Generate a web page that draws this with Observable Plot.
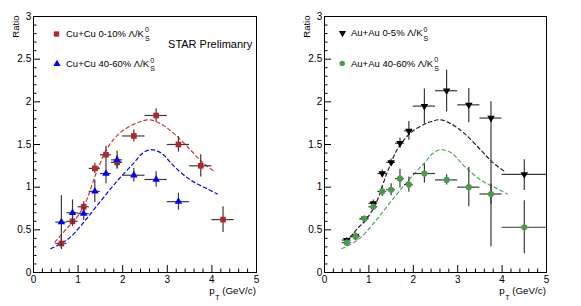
<!DOCTYPE html>
<html>
<head>
<meta charset="utf-8">
<script src="https://cdn.jsdelivr.net/npm/d3@7"></script>
<script src="https://cdn.jsdelivr.net/npm/@observablehq/plot@0.6"></script>
<style>
  body { margin: 0; background: #fff; }
  #wrap { position: relative; width: 581px; height: 306px; overflow: hidden; background: #fff;
          font-family: "Liberation Sans", Arial, Helvetica, sans-serif; color: #000; }
  .p { position: absolute; top: 0; }
  .lab { position: absolute; white-space: nowrap; line-height: 1; }
  .leg { font-size: 9.5px; }
  .ss { position: relative; display: inline-block; width: 7px; height: 0; }
  .ss span { position: absolute; left: 1px; font-size: 7px; line-height: 1; }
  .ss .sup { top: -10.1px; }
  .ss .sub { top: -1.4px; }
  .xl { font-size: 9.8px; }
  .xl .t { font-size: 7px; position: relative; top: 6.2px; margin-left: 0.5px; }
</style>
</head>
<body>
<div id="wrap">
  <div id="left" class="p" style="left:0px"></div>
  <div id="right" class="p" style="left:290px"></div>

  <div class="lab leg" style="left:66px;top:28.5px">Cu+Cu 0-10% Λ/K<span class="ss"><span class="sup">0</span><span class="sub">S</span></span></div>
  <div class="lab leg" style="left:66px;top:58.7px">Cu+Cu 40-60% Λ/K<span class="ss"><span class="sup">0</span><span class="sub">S</span></span></div>
  <div class="lab leg" style="left:351px;top:28px">Au+Au 0-5% Λ/K<span class="ss"><span class="sup">0</span><span class="sub">S</span></span></div>
  <div class="lab leg" style="left:351px;top:58.5px">Au+Au 40-60% Λ/K<span class="ss"><span class="sup">0</span><span class="sub">S</span></span></div>

  <div class="lab xl" style="right:325px;top:285.8px">p<span class="t">T</span> (GeV/c)</div>
  <div class="lab xl" style="right:35px;top:285.8px">p<span class="t">T</span> (GeV/c)</div>
</div>
<script>
// ---------- data ----------
// Cu+Cu (left panel)
const cuPt      = [0.625, 0.875, 1.125, 1.375, 1.625, 1.875, 2.25, 2.75, 3.25, 3.75, 4.25];
const cuPtErr   = [0.125, 0.125, 0.125, 0.125, 0.125, 0.125, 0.25, 0.25, 0.25, 0.25, 0.25];
const cu010     = [0.34, 0.60, 0.77, 1.22, 1.38, 1.29, 1.60, 1.84, 1.50, 1.25, 0.62];
const cu010Err  = [0.07, 0.06, 0.06, 0.06, 0.10, 0.08, 0.07, 0.08, 0.09, 0.13, 0.15];
const cu4060    = [0.59, 0.70, 0.69, 0.95, 1.16, 1.32, 1.14, 1.09, 0.83];
const cu4060Err = [0.31, 0.15, 0.08, 0.13, 0.12, 0.10, 0.08, 0.09, 0.10];

// Au+Au (right panel)
const auPt      = [0.5, 0.7, 0.9, 1.1, 1.3, 1.5, 1.7, 1.9, 2.25, 2.75, 3.25, 3.75, 4.5];
const auPtErr   = [0.1, 0.1, 0.1, 0.1, 0.1, 0.1, 0.1, 0.1, 0.25, 0.25, 0.25, 0.25, 0.5];
const au05      = [0.38, 0.43, 0.63, 0.81, 1.16, 1.29, 1.515, 1.66, 1.95, 2.13, 1.965, 1.81, 1.15];
const au05Lo    = [0.03, 0.03, 0.03, 0.04, 0.04, 0.04, 0.06, 0.11, 0.21, 0.25, 0.21, 1.51, 0.19];
const au05Hi    = [0.03, 0.03, 0.03, 0.04, 0.04, 0.04, 0.06, 0.11, 0.20, 0.24, 0.19, 0.19, 0.17];
const au4060    = [0.35, 0.42, 0.63, 0.77, 0.95, 0.97, 1.10, 1.03, 1.16, 1.085, 1.00, 0.92, 0.53];
const au4060Err = [0.04, 0.04, 0.03, 0.04, 0.06, 0.07, 0.11, 0.09, 0.11, 0.06, 0.23, 0.12, 0.31];

// dashed model curves (central / peripheral)
const modelCentralPt = [0.48, 0.77, 0.92, 1.15, 1.41, 1.67, 1.96, 2.26, 2.41, 2.60, 2.86, 3.16, 3.53, 3.79, 4.08];
const modelCentral   = [0.355, 0.53, 0.61, 0.80, 1.17, 1.47, 1.645, 1.74, 1.77, 1.79, 1.74, 1.625, 1.43, 1.29, 1.175];
const modelPeriphPt  = [0.39, 0.77, 1.16, 1.51, 1.89, 2.26, 2.45, 2.63, 2.86, 3.16, 3.53, 3.90, 4.12];
const modelPeriph    = [0.28, 0.39, 0.61, 0.84, 1.08, 1.29, 1.40, 1.44, 1.40, 1.24, 1.08, 0.98, 0.92];

// axis ticks
const xMajor = [0, 1, 2, 3, 4, 5];
const xMinor = [0.2,0.4,0.6,0.8,1.2,1.4,1.6,1.8,2.2,2.4,2.6,2.8,3.2,3.4,3.6,3.8,4.2,4.4,4.6,4.8];
const yMajor = [0, 0.5, 1, 1.5, 2, 2.5, 3];
const yMinor = [0.1,0.2,0.3,0.4,0.6,0.7,0.8,0.9,1.1,1.2,1.3,1.4,1.6,1.7,1.8,1.9,2.1,2.2,2.3,2.4,2.6,2.7,2.8,2.9];

// ---------- style ----------
const FONT = '"Liberation Sans", Arial, Helvetica, sans-serif';
const RED = "#b3282d", BLUE = "#0000ff", GREEN = "#4c9a4c", BLACK = "#000000";
const ERR = "#3a3a3a";

function series(pt, ptErr, val, lo, hi, dotOpts) {
  const idx = d3.range(val.length);
  return [
    Plot.ruleY(idx, {y: i => val[i], x1: i => pt[i] - ptErr[i], x2: i => pt[i] + ptErr[i], stroke: ERR, strokeWidth: 1.2}),
    Plot.ruleX(idx, {x: i => pt[i], y1: i => val[i] - lo[i], y2: i => val[i] + hi[i], stroke: ERR, strokeWidth: 1.2}),
    Plot.dot(idx, {x: i => pt[i], y: i => val[i], stroke: null, ...dotOpts})
  ];
}

function curve(pt, val, color) {
  const idx = d3.range(val.length);
  return Plot.line(idx, {x: i => pt[i], y: i => val[i], stroke: color, strokeWidth: 1.2,
    strokeDasharray: "3.5,3", curve: "catmull-rom"});
}

function panel({width, marginLeft, marginRight, marks}) {
  return Plot.plot({
    width, height: 306,
    marginTop: 16, marginBottom: 34, marginLeft, marginRight,
    x: {domain: [0, 5]},
    y: {domain: [0, 3]},
    style: {fontFamily: FONT, fontSize: "10px", color: "#000", background: "transparent", overflow: "visible"},
    marks: [
      Plot.axisX({ticks: xMajor, tickSize: -7, tickPadding: 10.5, tickFormat: d => String(d), label: null}),
      Plot.axisX({ticks: xMinor, tickSize: -3.5, tickFormat: () => "", label: null}),
      Plot.axisY({ticks: yMajor, tickSize: -7, tickPadding: 9.3, tickFormat: d => String(d), label: null}),
      Plot.axisY({ticks: yMinor, tickSize: -3.5, tickFormat: () => "", label: null}),
      ...marks,
      Plot.frame({stroke: "#000", strokeWidth: 1}),
      Plot.text(["Ratio"], {frameAnchor: "top-left", rotate: -90, textAnchor: "end", lineAnchor: "top",
        dx: -21, dy: -1, fontSize: 9.5})
    ]
  });
}

const left = panel({
  width: 290, marginLeft: 33, marginRight: 34,
  marks: [
    curve(modelCentralPt, modelCentral, "#cc3333"),
    curve(modelPeriphPt, modelPeriph, BLUE),
    ...series(cuPt, cuPtErr, cu010, cu010Err, cu010Err, {symbol: "square", r: 3.2, fill: RED}),
    ...series(cuPt, cuPtErr, cu4060, cu4060Err, cu4060Err, {symbol: "triangle", r: 2.8, fill: BLUE}),
    Plot.dot([0], {frameAnchor: "top-left", dx: 23, dy: 17.5, symbol: "square", r: 3, fill: RED}),
    Plot.dot([0], {frameAnchor: "top-left", dx: 23.5, dy: 47.5, symbol: "triangle", r: 2.7, fill: BLUE}),
    Plot.text(["STAR Prelimanry"], {frameAnchor: "top-right", textAnchor: "end", lineAnchor: "top",
      dx: -4.3, dy: 23.3, fontSize: 11})
  ]
});

const right = panel({
  width: 291, marginLeft: 34, marginRight: 35,
  marks: [
    curve(modelCentralPt, modelCentral, "#222222"),
    curve(modelPeriphPt, modelPeriph, "#5aa55a"),
    ...series(auPt, auPtErr, au05, au05Lo, au05Hi, {symbol: "triangle", r: 2.8, fill: BLACK, rotate: 180}),
    ...series(auPt, auPtErr, au4060, au4060Err, au4060Err, {symbol: "circle", r: 3.1, fill: GREEN}),
    Plot.dot([0], {frameAnchor: "top-left", dx: 18, dy: 16.5, symbol: "triangle", r: 2.7, fill: BLACK, rotate: 180}),
    Plot.dot([0], {frameAnchor: "top-left", dx: 17.7, dy: 47, symbol: "circle", r: 2.7, fill: GREEN})
  ]
});

document.getElementById("left").appendChild(left);
document.getElementById("right").appendChild(right);
</script>
</body>
</html>
